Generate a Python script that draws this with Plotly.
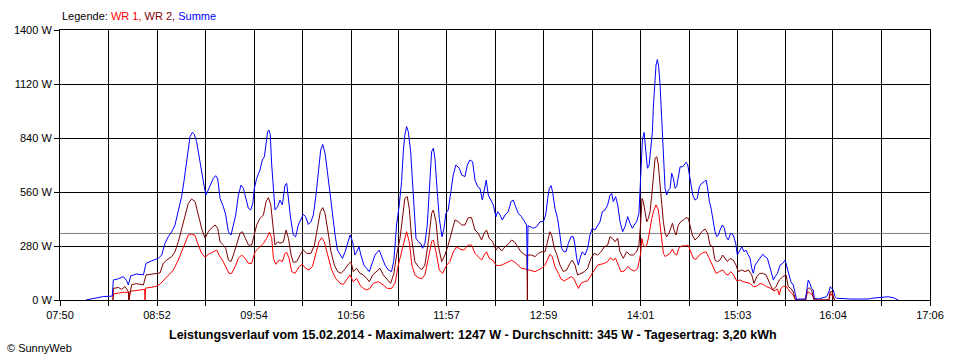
import plotly.graph_objects as go

# ---------------- data ----------------
# time in minutes of the day, power in W
sum_minutes = [486.6, 489.2, 493.4, 497.7, 503.4, 504.1, 507.3, 510.5, 512.6, 513.7, 515.2, 519.0, 523.3, 525.0,
               528.6, 532.8, 535.0, 537.1, 539.2, 541.4, 543.5, 545.6, 547.7, 549.2, 550.9, 552.0, 553.1, 554.6,
               555.8, 557.3, 559.0, 560.5, 562.0, 563.3, 565.9, 568.0, 569.5, 570.8, 572.3, 574.4, 575.9, 577.6,
               579.3, 580.8, 582.3, 584.0, 585.7, 587.2, 588.7, 590.4, 591.9, 593.2, 594.2, 595.7, 597.8, 599.3,
               600.6, 601.7, 602.7, 603.6, 604.4, 605.3, 606.4, 607.4, 609.1, 610.6, 612.1, 613.8, 614.9, 615.9,
               617.4, 619.1, 620.6, 622.3, 623.8, 625.5, 627.0, 628.7, 630.4, 631.9, 633.6, 635.1, 636.6, 637.9,
               639.4, 640.9, 642.6, 644.1, 645.8, 647.3, 649.0, 650.5, 652.2, 653.9, 655.4, 657.0, 658.5, 659.6,
               661.1, 662.3, 664.2, 665.9, 667.7, 669.1, 671.3, 674.0, 675.5, 677.7, 679.8, 681.9, 683.4, 685.1,
               686.8, 688.3, 689.4, 690.4, 691.5, 692.6, 694.1, 695.3, 696.4, 697.5, 699.0, 700.5, 701.7, 703.2,
               704.7, 706.4, 707.5, 708.6, 709.6, 711.1, 712.4, 714.1, 715.4, 716.6, 718.1, 719.8, 721.3, 723.0,
               725.2, 726.7, 728.8, 730.3, 732.0, 733.7, 735.2, 736.9, 738.4, 739.9, 741.1, 742.4, 743.7, 745.2,
               746.9, 748.6, 749.7, 751.2, 752.7, 754.4, 756.5, 758.2, 759.7, 761.2, 762.9, 765.0, 766.7, 768.2,
               768.7, 769.1, 770.4, 772.5, 774.6, 776.8, 778.9, 780.4, 781.7, 782.7, 783.8, 784.8, 786.3, 788.0,
               789.5, 790.6, 792.1, 793.4, 794.9, 796.6, 798.1, 799.1, 800.2, 801.3, 802.3, 803.8, 805.5, 807.2,
               808.7, 810.2, 811.9, 813.6, 815.1, 816.6, 818.3, 820.0, 821.5, 822.6, 823.6, 825.1, 826.4, 827.9,
               829.6, 831.1, 832.8, 834.3, 835.8, 837.0, 838.5, 840.0, 840.7, 841.3, 842.2, 843.3, 843.9, 844.5,
               845.4, 846.5, 847.5, 848.6, 849.2, 849.9, 850.9, 851.8, 852.6, 853.5, 854.5, 855.6, 856.7, 857.7,
               858.8, 859.9, 860.9, 862.0, 863.1, 864.1, 865.2, 866.3, 868.0, 869.0, 870.1, 871.2, 872.2, 873.3,
               874.4, 875.8, 877.3, 878.6, 880.1, 881.8, 882.9, 883.9, 885.0, 886.1, 887.1, 888.6, 889.7, 890.8,
               891.8, 893.3, 894.6, 895.7, 897.1, 898.6, 900.3, 901.8, 902.9, 904.2, 905.7, 907.2, 908.4, 909.9,
               911.0, 912.1, 913.1, 914.2, 915.7, 917.4, 919.1, 920.6, 922.1, 923.3, 924.8, 925.9, 927.0, 928.5,
               930.2, 931.9, 933.4, 934.4, 935.9, 937.1, 938.6, 939.7, 940.8, 941.8, 946.5, 947.4, 948.2, 949.3,
               950.3, 951.4, 952.0, 954.6, 957.8, 959.9, 961.4, 962.3, 963.1, 964.2, 965.3, 966.3, 975.9, 986.6,
               988.7, 992.9, 996.1, 999.3, 1002.5, 1005.7]
sum_watts = [0, 5, 12, 18, 20, 104, 110, 121, 100, 78, 125, 135, 130, 190,
             203, 216, 233, 294, 328, 354, 389, 458, 536, 614, 717, 804, 847, 869,
             859, 821, 735, 665, 596, 544, 588, 631, 645, 627, 527, 484, 441, 354,
             337, 398, 441, 544, 596, 579, 527, 475, 467, 501, 579, 631, 674, 726,
             743, 804, 873, 881, 856, 700, 544, 467, 484, 518, 493, 596, 605, 527,
             423, 337, 328, 389, 415, 444, 432, 392, 406, 441, 544, 683, 778, 807,
             760, 665, 544, 441, 337, 259, 233, 216, 250, 302, 337, 302, 233, 250,
             276, 233, 181, 164, 147, 181, 233, 259, 225, 181, 156, 147, 207, 389,
             493, 614, 769, 856, 899, 873, 769, 614, 458, 320, 302, 294, 268, 294,
             389, 648, 769, 787, 735, 562, 423, 328, 372, 449, 467, 562, 648, 700,
             683, 648, 640, 700, 726, 717, 622, 588, 579, 518, 579, 622, 544, 518,
             493, 432, 458, 441, 415, 441, 458, 510, 518, 484, 449, 432, 406, 389,
             155, 385, 380, 372, 380, 406, 406, 441, 527, 579, 593, 562, 475, 423,
             337, 268, 250, 250, 294, 328, 328, 285, 216, 181, 216, 250, 233, 268,
             337, 372, 363, 389, 406, 458, 467, 493, 544, 553, 510, 536, 493, 406,
             354, 380, 432, 398, 372, 389, 406, 449, 560, 720, 830, 869, 820, 769,
             683, 700, 787, 873, 1000, 1115, 1218, 1247, 1210, 1115, 942, 735, 579, 544,
             570, 579, 657, 631, 579, 588, 631, 691, 691, 700, 714, 700, 657, 605,
             544, 518, 527, 588, 605, 614, 622, 579, 510, 475, 432, 354, 328, 337,
             363, 389, 372, 328, 311, 346, 337, 294, 233, 250, 276, 250, 259, 233,
             216, 164, 138, 181, 199, 216, 237, 225, 216, 181, 130, 104, 121, 138,
             181, 190, 207, 173, 121, 95, 78, 43, 0, 5, 5, 60, 104, 86,
             60, 52, 9, 5, 12, 17, 43, 69, 60, 52, 17, 9, 5, 5,
             9, 12, 17, 17, 12, 0]

wr2_minutes = [503.8, 504.1, 507.3, 509.4, 511.5, 513.7, 514.0, 515.8, 519.0, 523.3, 525.0, 529.6, 533.9, 536.0,
               538.2, 541.4, 543.5, 545.6, 547.7, 549.9, 552.0, 554.1, 556.3, 558.4, 560.5, 562.7, 564.8, 567.0,
               569.1, 570.8, 572.3, 574.4, 575.9, 577.6, 579.3, 580.8, 582.9, 585.1, 586.6, 588.3, 590.4, 592.5,
               594.2, 595.7, 597.8, 600.0, 601.7, 603.2, 604.7, 605.9, 607.4, 609.1, 610.6, 612.8, 614.5, 616.0,
               617.7, 619.1, 621.3, 623.4, 625.5, 627.7, 630.4, 632.6, 634.7, 636.4, 637.9, 639.4, 641.1, 643.2,
               645.3, 647.5, 649.6, 651.7, 653.9, 656.0, 657.4, 659.6, 661.7, 663.8, 666.0, 667.7, 669.8, 672.3,
               674.5, 676.6, 679.2, 681.3, 683.4, 685.1, 687.3, 689.4, 690.4, 691.9, 693.2, 694.7, 696.8, 699.0,
               701.1, 703.2, 705.4, 707.5, 708.6, 710.3, 711.7, 713.9, 716.0, 718.1, 720.3, 722.4, 724.5, 726.7,
               728.8, 730.9, 733.0, 735.2, 737.3, 739.4, 741.1, 742.6, 744.3, 746.5, 748.6, 750.1, 752.3, 754.4,
               756.9, 758.7, 760.4, 762.5, 764.6, 767.2, 768.4, 768.7, 768.9, 771.4, 773.6, 775.7, 777.8, 780.0,
               781.7, 783.1, 784.2, 785.9, 787.6, 789.5, 791.7, 793.8, 795.9, 797.4, 799.1, 800.8, 803.0, 805.1,
               807.2, 809.3, 811.5, 813.6, 815.7, 817.9, 820.0, 821.5, 823.0, 824.7, 826.4, 827.9, 830.0, 832.1,
               834.3, 836.4, 838.5, 840.0, 841.1, 842.0, 842.8, 843.9, 845.0, 846.0, 847.1, 848.2, 849.2, 850.3,
               851.4, 852.4, 853.5, 854.5, 855.6, 856.7, 857.7, 859.2, 860.3, 861.4, 862.4, 863.7, 865.2, 866.7,
               868.4, 870.1, 871.6, 872.7, 874.1, 875.8, 878.0, 880.1, 882.2, 883.9, 885.4, 887.1, 888.6, 890.1,
               891.8, 893.5, 895.0, 896.5, 898.2, 900.3, 902.0, 903.5, 905.7, 907.8, 909.9, 912.1, 913.5, 915.3,
               917.0, 919.1, 921.2, 923.3, 925.5, 927.6, 929.7, 931.9, 934.0, 935.4, 937.1, 938.6, 940.1, 946.5,
               947.4, 948.6, 950.3, 952.0, 961.4, 962.1, 963.5, 964.8]
wr2_watts = [0, 60, 65, 55, 70, 43, 0, 80, 85, 78, 130, 135, 140, 190,
             207, 225, 250, 302, 372, 441, 501, 524, 510, 441, 372, 320, 354, 375,
             389, 372, 302, 285, 268, 207, 199, 233, 285, 346, 354, 320, 285, 285,
             346, 389, 423, 441, 510, 531, 493, 389, 285, 302, 294, 302, 363, 320,
             233, 195, 199, 233, 259, 242, 242, 285, 389, 458, 479, 449, 363, 250,
             181, 147, 138, 156, 181, 199, 147, 164, 138, 130, 112, 95, 130, 147,
             164, 130, 104, 86, 138, 233, 320, 458, 527, 536, 475, 320, 199, 173,
             156, 181, 302, 449, 467, 406, 285, 199, 233, 285, 354, 415, 406, 389,
             389, 427, 427, 363, 346, 311, 346, 363, 320, 302, 259, 276, 254, 276,
             294, 311, 302, 276, 250, 233, 233, 0, 233, 233, 225, 242, 250, 250,
             302, 354, 337, 268, 233, 181, 147, 156, 190, 207, 181, 130, 138, 147,
             164, 216, 242, 233, 250, 276, 285, 328, 320, 302, 320, 250, 216, 250,
             233, 233, 250, 285, 400, 527, 510, 458, 406, 423, 458, 544, 648, 735,
             743, 700, 596, 493, 406, 346, 328, 346, 372, 398, 363, 337, 389, 406,
             415, 427, 423, 389, 337, 311, 328, 354, 368, 346, 285, 276, 207, 199,
             207, 233, 216, 199, 216, 207, 181, 147, 156, 147, 156, 130, 86, 121,
             138, 138, 130, 95, 52, 69, 104, 121, 130, 69, 60, 43, 0, 0,
             52, 64, 52, 0, 0, 43, 43, 0]

wr1_minutes = [503.7, 504.3, 507.3, 510.5, 513.7, 514.3, 514.7, 519.0, 523.3, 524.1, 524.3, 524.7, 528.6, 531.8,
               533.9, 538.2, 542.4, 545.6, 547.7, 549.9, 552.0, 554.1, 556.3, 558.4, 560.5, 562.7, 564.8, 568.0,
               570.2, 571.6, 573.8, 575.9, 578.0, 579.7, 581.9, 584.0, 586.1, 588.3, 590.4, 592.5, 594.7, 596.8,
               600.0, 602.1, 603.8, 605.3, 606.4, 607.9, 610.0, 612.1, 613.8, 614.9, 616.4, 618.1, 620.2, 622.8,
               624.9, 627.0, 629.2, 631.3, 633.4, 635.5, 637.2, 638.9, 641.1, 643.6, 646.2, 649.0, 651.1, 653.2,
               655.4, 657.4, 659.6, 661.7, 663.8, 666.0, 668.1, 670.2, 673.4, 676.6, 679.2, 681.9, 684.1, 686.2,
               688.3, 690.4, 691.5, 693.2, 694.9, 696.8, 699.0, 701.1, 703.2, 705.4, 707.5, 708.6, 710.3, 712.4,
               714.5, 717.1, 719.2, 721.3, 723.5, 725.6, 728.1, 730.9, 733.0, 735.2, 737.3, 739.4, 741.1, 742.6,
               744.3, 746.5, 748.6, 750.1, 752.3, 754.4, 756.5, 758.7, 760.8, 762.9, 765.0, 767.2, 769.3, 771.4,
               773.6, 775.7, 777.8, 780.0, 781.7, 783.1, 784.6, 786.3, 788.5, 790.2, 792.3, 794.4, 796.6, 798.3,
               799.8, 801.3, 803.0, 805.1, 807.2, 809.3, 811.5, 813.6, 815.7, 817.9, 820.0, 821.7, 823.4, 825.1,
               826.8, 828.5, 830.6, 832.8, 834.9, 837.0, 839.2, 840.2, 841.1, 841.8, 842.8, 843.9, 845.0, 846.0,
               847.1, 848.2, 849.6, 850.9, 852.4, 853.5, 854.5, 855.6, 856.7, 858.2, 859.9, 861.4, 862.6, 864.1,
               865.6, 867.3, 869.5, 871.6, 873.1, 874.8, 876.5, 878.6, 880.7, 882.9, 884.4, 885.9, 887.6, 889.3,
               891.4, 893.5, 895.7, 897.1, 898.6, 900.3, 902.5, 904.6, 906.7, 908.9, 911.0, 913.1, 915.3, 917.4,
               919.5, 921.6, 924.2, 926.3, 928.5, 929.7, 930.6, 932.3, 934.4, 935.0, 936.5, 938.6, 940.1, 946.5,
               947.8, 949.3, 950.8, 952.0, 961.4, 962.5, 964.2, 965.3]
wr1_watts = [0, 32, 36, 40, 40, 0, 45, 48, 52, 55, 0, 62, 66, 72,
             82, 118, 155, 207, 250, 302, 337, 342, 334, 285, 242, 221, 237, 250,
             259, 233, 207, 173, 138, 138, 173, 216, 233, 216, 190, 190, 250, 268,
             294, 320, 351, 320, 216, 185, 207, 199, 242, 247, 216, 147, 138, 173,
             185, 164, 156, 173, 233, 302, 323, 302, 233, 156, 112, 86, 81, 104,
             130, 95, 112, 78, 60, 52, 60, 86, 95, 78, 60, 60, 86, 181,
             250, 328, 354, 302, 181, 130, 116, 109, 130, 216, 302, 311, 250, 156,
             138, 181, 199, 250, 276, 264, 259, 285, 285, 242, 225, 207, 233, 250,
             216, 207, 181, 178, 181, 190, 199, 206, 195, 181, 164, 161, 156, 150,
             147, 156, 164, 181, 216, 237, 225, 173, 138, 109, 99, 112, 121, 112,
             86, 60, 86, 95, 99, 130, 156, 181, 185, 190, 199, 219, 207, 216,
             181, 147, 150, 173, 159, 150, 164, 199, 242, 320, 285, 276, 285, 320,
             372, 423, 467, 493, 467, 389, 302, 242, 225, 233, 242, 264, 242, 233,
             271, 280, 282, 282, 250, 216, 211, 233, 245, 250, 225, 199, 164, 138,
             147, 156, 133, 130, 147, 133, 99, 104, 95, 92, 86, 69, 72, 86,
             81, 69, 60, 47, 57, 26, 60, 72, 69, 60, 43, 26, 0, 0,
             43, 35, 26, 0, 0, 35, 17, 0]

average_watts = 345
tick_labels = ["07:50", "08:52", "09:54", "10:56", "11:57", "12:59", "14:01", "15:03", "16:04", "17:06"]
y_ticks = [0, 280, 560, 840, 1120, 1400]
title_text = ("Leistungsverlauf vom 15.02.2014 - Maximalwert: 1247 W - "
              "Durchschnitt: 345 W - Tagesertrag: 3,20 kWh")

# ---------------- axis helpers ----------------
def to_min(s):
    h, m = s.split(":")
    return int(h) * 60 + int(m)

label_pos = [to_min(s) for s in tick_labels]
x_tickvals, x_ticktext = [], []
for i, p in enumerate(label_pos):
    x_tickvals.append(p)
    x_ticktext.append(tick_labels[i])
    if i < len(label_pos) - 1:
        x_tickvals.append((p + label_pos[i + 1]) / 2)
        x_ticktext.append("")

fig = go.Figure()
fig.add_trace(go.Scatter(x=[label_pos[0], label_pos[-1]], y=[average_watts, average_watts],
                         mode="lines", line=dict(color="#808080", width=1), showlegend=False,
                         hoverinfo="skip"))
fig.add_trace(go.Scatter(x=wr1_minutes, y=wr1_watts, mode="lines", name="WR 1",
                         line=dict(color="#ff0000", width=1)))
fig.add_trace(go.Scatter(x=wr2_minutes, y=wr2_watts, mode="lines", name="WR 2",
                         line=dict(color="#800000", width=1)))
fig.add_trace(go.Scatter(x=sum_minutes, y=sum_watts, mode="lines", name="Summe",
                         line=dict(color="#0000ff", width=1)))

fig.update_layout(
    width=960, height=360,
    margin=dict(l=60, r=30, t=30, b=60),
    paper_bgcolor="white", plot_bgcolor="white",
    showlegend=False,
    font=dict(family="Liberation Sans, Arial, sans-serif", size=11, color="black"),
    xaxis=dict(range=[label_pos[0], label_pos[-1]], tickmode="array", tickvals=x_tickvals,
               ticktext=x_ticktext, showgrid=True, gridcolor="black", gridwidth=1,
               showline=True, linecolor="black", linewidth=1, mirror=True,
               ticks="outside", ticklen=5, tickcolor="black", zeroline=False,
               tickfont=dict(family="Liberation Sans Narrow, Arial Narrow, sans-serif", size=11)),
    yaxis=dict(range=[0, 1400], tickmode="array", tickvals=y_ticks,
               ticktext=[f"{v} W" for v in y_ticks], showgrid=True, gridcolor="black",
               gridwidth=1, showline=True, linecolor="black", linewidth=1, mirror=True,
               ticks="outside", ticklen=5, tickcolor="black", zeroline=False),
    annotations=[
        dict(xref="paper", yref="paper", x=0, y=1.052, xanchor="left", yanchor="middle",
             showarrow=False, font=dict(size=11),
             text="Legende: <span style='color:#ff0000'>WR 1,</span> "
                  "<span style='color:#800000'>WR 2,</span> "
                  "<span style='color:#0000ff'>Summe</span>"),
        dict(xref="paper", yref="paper", x=0.4747, y=-0.13, xanchor="center", yanchor="middle",
             showarrow=False, text="<b>" + title_text + "</b>", font=dict(size=12.5)),
        dict(xref="paper", yref="paper", x=-0.063, y=-0.178, xanchor="left", yanchor="middle",
             showarrow=False, text="© SunnyWeb", font=dict(size=11)),
    ],
)

fig.write_html("out.html", config={"displayModeBar": False},
               post_script="document.body.style.margin='0';")
